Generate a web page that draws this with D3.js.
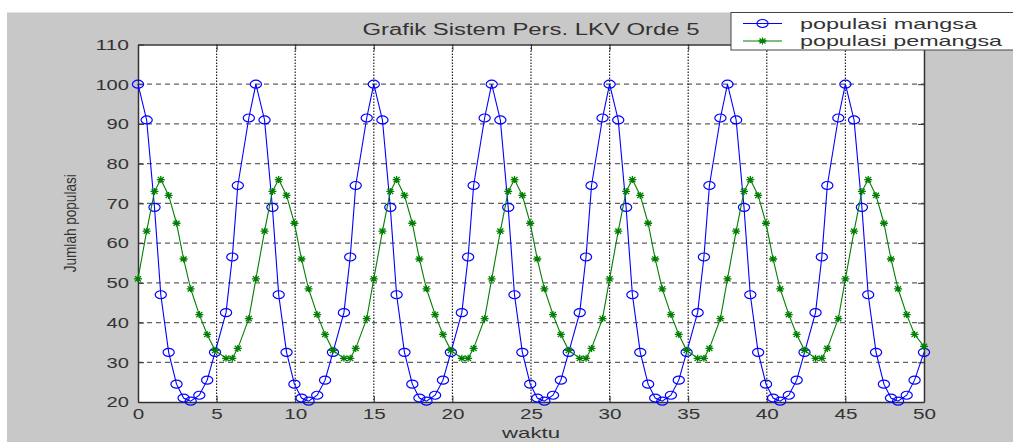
<!DOCTYPE html>
<html><head><meta charset="utf-8">
<script src="https://cdn.jsdelivr.net/npm/d3@7"></script>
<style>body{margin:0;background:#fff;} svg{display:block;}</style>
</head><body><svg id="c" width="1013" height="442"></svg>
<script>
// ---- data ----
const waktu = [
0,0.55,1.05,1.45,1.95,2.45,2.9,3.35,3.9,4.4,4.9,5.6,6.0,6.35,7.05,
7.5,8.05,8.55,8.95,9.45,9.95,10.4,10.85,11.4,11.9,12.4,13.1,13.5,13.85,14.55,
15,15.55,16.05,16.45,16.95,17.45,17.9,18.35,18.9,19.4,19.9,20.6,21.0,21.35,22.05,
22.5,23.05,23.55,23.95,24.45,24.95,25.4,25.85,26.4,26.9,27.4,28.1,28.5,28.85,29.55,
30,30.55,31.05,31.45,31.95,32.45,32.9,33.35,33.9,34.4,34.9,35.6,36.0,36.35,37.05,
37.5,38.05,38.55,38.95,39.45,39.95,40.4,40.85,41.4,41.9,42.4,43.1,43.5,43.85,44.55,
45,45.55,46.05,46.45,46.95,47.45,47.9,48.35,48.9,49.4,50];
const mangsa = [
100,91,69,47,32.5,24.5,21,20.2,21.7,25.5,32.5,42.5,56.5,74.5,91.5,
100,91,69,47,32.5,24.5,21,20.2,21.7,25.5,32.5,42.5,56.5,74.5,91.5,
100,91,69,47,32.5,24.5,21,20.2,21.7,25.5,32.5,42.5,56.5,74.5,91.5,
100,91,69,47,32.5,24.5,21,20.2,21.7,25.5,32.5,42.5,56.5,74.5,91.5,
100,91,69,47,32.5,24.5,21,20.2,21.7,25.5,32.5,42.5,56.5,74.5,91.5,
100,91,69,47,32.5,24.5,21,20.2,21.7,25.5,32.5,42.5,56.5,74.5,91.5,
100,91,69,47,32.5,24.5,21,20.2,21.7,25.5,32.5];
const pemangsa = [
51,63,73,76,72,65,56,48.5,42,37,33,31,31,33.5,41,
51,63,73,76,72,65,56,48.5,42,37,33,31,31,33.5,41,
51,63,73,76,72,65,56,48.5,42,37,33,31,31,33.5,41,
51,63,73,76,72,65,56,48.5,42,37,33,31,31,33.5,41,
51,63,73,76,72,65,56,48.5,42,37,33,31,31,33.5,41,
51,63,73,76,72,65,56,48.5,42,37,33,31,31,33.5,41,
51,63,73,76,72,65,56,48.5,42,37,34];
const xTicks = [0,5,10,15,20,25,30,35,40,45,50];
const yTicks = [20,30,40,50,60,70,80,90,100,110];
const titleText = "Grafik Sistem Pers. LKV Orde 5";
const xLabelText = "waktu";
const yLabelText = "Jumlah populasi";
const seriesNames = ["populasi mangsa", "populasi pemangsa"];

// ---- drawing ----
const FONT = "'Liberation Sans', Arial, sans-serif";
const svg = d3.select("#c");
svg.append("rect").attr("x",7).attr("y",12.5).attr("width",1006).attr("height",430).attr("fill","#c8c8c8");

const L = 138, R = 924, T = 44.5, B = 402;
const x = d3.scaleLinear().domain([0,50]).range([L,R]);
const y = d3.scaleLinear().domain([20,110]).range([B,T]);

svg.append("rect").attr("x",L).attr("y",T).attr("width",R-L).attr("height",B-T).attr("fill","#fff");

// grid
const g = svg.append("g");
g.selectAll("line.h").data(yTicks.filter(v=>v>20 && v<110)).join("line")
  .attr("x1",L).attr("x2",R).attr("y1",d=>y(d)).attr("y2",d=>y(d))
  .attr("stroke","#606060").attr("stroke-width",1.2).attr("stroke-dasharray","5,4");
g.selectAll("line.v").data(xTicks.filter(v=>v>0 && v<50)).join("line")
  .attr("y1",T).attr("y2",B).attr("x1",d=>x(d)).attr("x2",d=>x(d))
  .attr("stroke","#222").attr("stroke-width",1.2).attr("stroke-dasharray","1.5,1.5");

// axes
function styleAxis(sel){
  sel.select(".domain").attr("stroke","#333").attr("stroke-width",1.5);
  sel.selectAll(".tick line").attr("stroke","#333");
}
const ax = svg.append("g").attr("transform",`translate(0,${B})`)
  .call(d3.axisBottom(x).tickValues(xTicks).tickSizeInner(-6).tickSizeOuter(0).tickPadding(6));
styleAxis(ax);
ax.selectAll("text").attr("font-family",FONT).attr("font-size",15).attr("fill","#333")
  .attr("textLength",d=>String(d).length*11.5).attr("lengthAdjust","spacingAndGlyphs");
const axT = svg.append("g").attr("transform",`translate(0,${T})`)
  .call(d3.axisTop(x).tickValues(xTicks).tickSizeInner(-6).tickSizeOuter(0).tickFormat(""));
styleAxis(axT);
const ay = svg.append("g").attr("transform",`translate(${L},0)`)
  .call(d3.axisLeft(y).tickValues(yTicks).tickSizeInner(-6).tickSizeOuter(0).tickPadding(9));
styleAxis(ay);
ay.selectAll("text").attr("font-family",FONT).attr("font-size",15).attr("fill","#333")
  .attr("textLength",d=>String(d).length*11.2).attr("lengthAdjust","spacingAndGlyphs");
const ayR = svg.append("g").attr("transform",`translate(${R},0)`)
  .call(d3.axisRight(y).tickValues(yTicks).tickSizeInner(-6).tickSizeOuter(0).tickFormat(""));
styleAxis(ayR);

// series
const pts1 = waktu.map((t,i)=>[t,mangsa[i]]);
const pts2 = waktu.map((t,i)=>[t,pemangsa[i]]);
const line = d3.line().x(d=>x(d[0])).y(d=>y(d[1]));
const BLUE = "#0000ff", GREEN = "#008000";
const starPath = "M-4,0H4M0,-3.5V3.5M-3,-2.6L3,2.6M-3,2.6L3,-2.6";

svg.append("path").datum(pts1).attr("d",line).attr("fill","none").attr("stroke",BLUE).attr("stroke-width",1.1);
svg.append("g").selectAll("ellipse").data(pts1).join("ellipse")
  .attr("cx",d=>x(d[0])).attr("cy",d=>y(d[1])).attr("rx",5.6).attr("ry",4)
  .attr("fill","none").attr("stroke",BLUE).attr("stroke-width",1.2);

svg.append("path").datum(pts2).attr("d",line).attr("fill","none").attr("stroke",GREEN).attr("stroke-width",1.1);
svg.append("g").selectAll("path").data(pts2).join("path")
  .attr("transform",d=>`translate(${x(d[0])},${y(d[1])})`).attr("d",starPath)
  .attr("fill","none").attr("stroke",GREEN).attr("stroke-width",1.3);

// title and labels
svg.append("text").attr("x",(L+R)/2).attr("y",35).attr("text-anchor","middle")
  .attr("font-family",FONT).attr("font-size",16).attr("fill","#333")
  .attr("textLength",337).attr("lengthAdjust","spacingAndGlyphs").text(titleText);
svg.append("text").attr("x",(L+R)/2).attr("y",438).attr("text-anchor","middle")
  .attr("font-family",FONT).attr("font-size",15).attr("fill","#333")
  .attr("textLength",58).attr("lengthAdjust","spacingAndGlyphs").text(xLabelText);
svg.append("text").attr("transform",`translate(76,${(T+B)/2}) rotate(-90)`).attr("text-anchor","middle")
  .attr("font-family",FONT).attr("font-size",17).attr("fill","#333")
  .attr("textLength",98).attr("lengthAdjust","spacingAndGlyphs").text(yLabelText);

// legend
const lg = svg.append("g");
lg.append("rect").attr("x",731).attr("y",12.5).attr("width",300).attr("height",37.5)
  .attr("fill","#fff").attr("stroke","#444").attr("stroke-width",1);
const legY = [23.5, 41];
const legW = [177, 202];
const colors = [BLUE, GREEN];
seriesNames.forEach((name,i)=>{
  lg.append("line").attr("x1",743).attr("x2",782).attr("y1",legY[i]).attr("y2",legY[i])
    .attr("stroke",colors[i]).attr("stroke-width",1.1);
  if(i===0){
    lg.append("ellipse").attr("cx",762.5).attr("cy",legY[i]).attr("rx",5.6).attr("ry",4)
      .attr("fill","none").attr("stroke",BLUE).attr("stroke-width",1.2);
  } else {
    lg.append("path").attr("transform",`translate(762.5,${legY[i]})`).attr("d",starPath)
      .attr("fill","none").attr("stroke",GREEN).attr("stroke-width",1.3);
  }
  lg.append("text").attr("x",800).attr("y",legY[i]+5).attr("font-family",FONT).attr("font-size",15)
    .attr("fill","#333").attr("textLength",legW[i]).attr("lengthAdjust","spacingAndGlyphs").text(name);
});
</script></body></html>
